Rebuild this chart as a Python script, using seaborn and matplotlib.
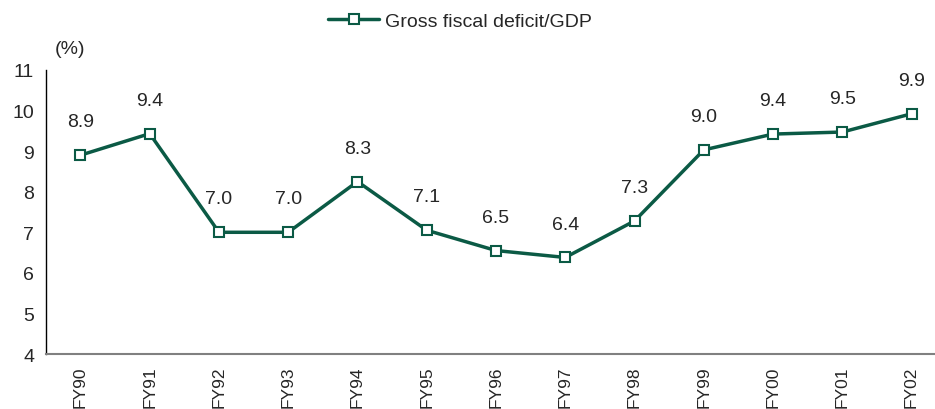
import matplotlib
matplotlib.use("Agg")
import matplotlib.pyplot as plt
import seaborn as sns
import pandas as pd
import numpy as np

years = ["FY90", "FY91", "FY92", "FY93", "FY94", "FY95", "FY96",
         "FY97", "FY98", "FY99", "FY00", "FY01", "FY02"]
deficit = [8.9, 9.43, 7.0, 7.0, 8.25, 7.05, 6.55, 6.38, 7.28, 9.03, 9.42, 9.47, 9.92]
labels = ["8.9", "9.4", "7.0", "7.0", "8.3", "7.1", "6.5", "6.4", "7.3", "9.0", "9.4", "9.5", "9.9"]

sns.set_style("white")
plt.rcParams['font.family'] = ['Liberation Sans', 'DejaVu Sans']

green = "#0b5a45"
fs = 14
df = pd.DataFrame({"year": years, "val": deficit})
df["x"] = np.arange(len(years))

fig = plt.figure(figsize=(9.35, 4.1), dpi=100)
ax = fig.add_axes([0.049, 0.134, 0.963, 0.693])

sns.lineplot(data=df, x="x", y="val", ax=ax, color=green, linewidth=2.5,
             marker="s", markersize=7, markerfacecolor="white",
             markeredgecolor=green, markeredgewidth=1.5,
             label="Gross fiscal deficit/GDP", clip_on=False)

for xi, yi, lab in zip(df["x"], df["val"], labels):
    ax.annotate(lab, (xi, yi), xytext=(0, 24), textcoords="offset points",
                ha="center", va="center", fontsize=fs)

ax.set_xlim(-0.5, len(years) - 0.5)
ax.set_ylim(4, 11)
ax.set_yticks(range(4, 12))
ax.set_xticks(df["x"])
ax.set_xticklabels(years, rotation=90, fontsize=12.5)
ax.tick_params(axis="x", length=0, pad=8)
ax.set_xticks(np.arange(-0.5, len(years), 1), minor=True)
ax.tick_params(axis="x", which="minor", length=6, color="#808080", width=1.2, direction="out")
ax.tick_params(axis="y", labelsize=fs, length=5, color="black", direction="out", width=1)
ax.set_xlabel("")
ax.set_ylabel("")

for s in ["top", "right"]:
    ax.spines[s].set_visible(False)
ax.spines["left"].set_color("black")
ax.spines["left"].set_linewidth(1)
ax.spines["bottom"].set_color("#808080")
ax.spines["bottom"].set_linewidth(1.5)

fig.text(0.075, 0.88, "(%)", fontsize=fs, ha="center", va="center")

ax.legend(loc="upper center", bbox_to_anchor=(0.46, 1.265), frameon=False,
          fontsize=fs, handlelength=2.6, handletextpad=0.3)

fig.savefig("out.png", dpi=100)
